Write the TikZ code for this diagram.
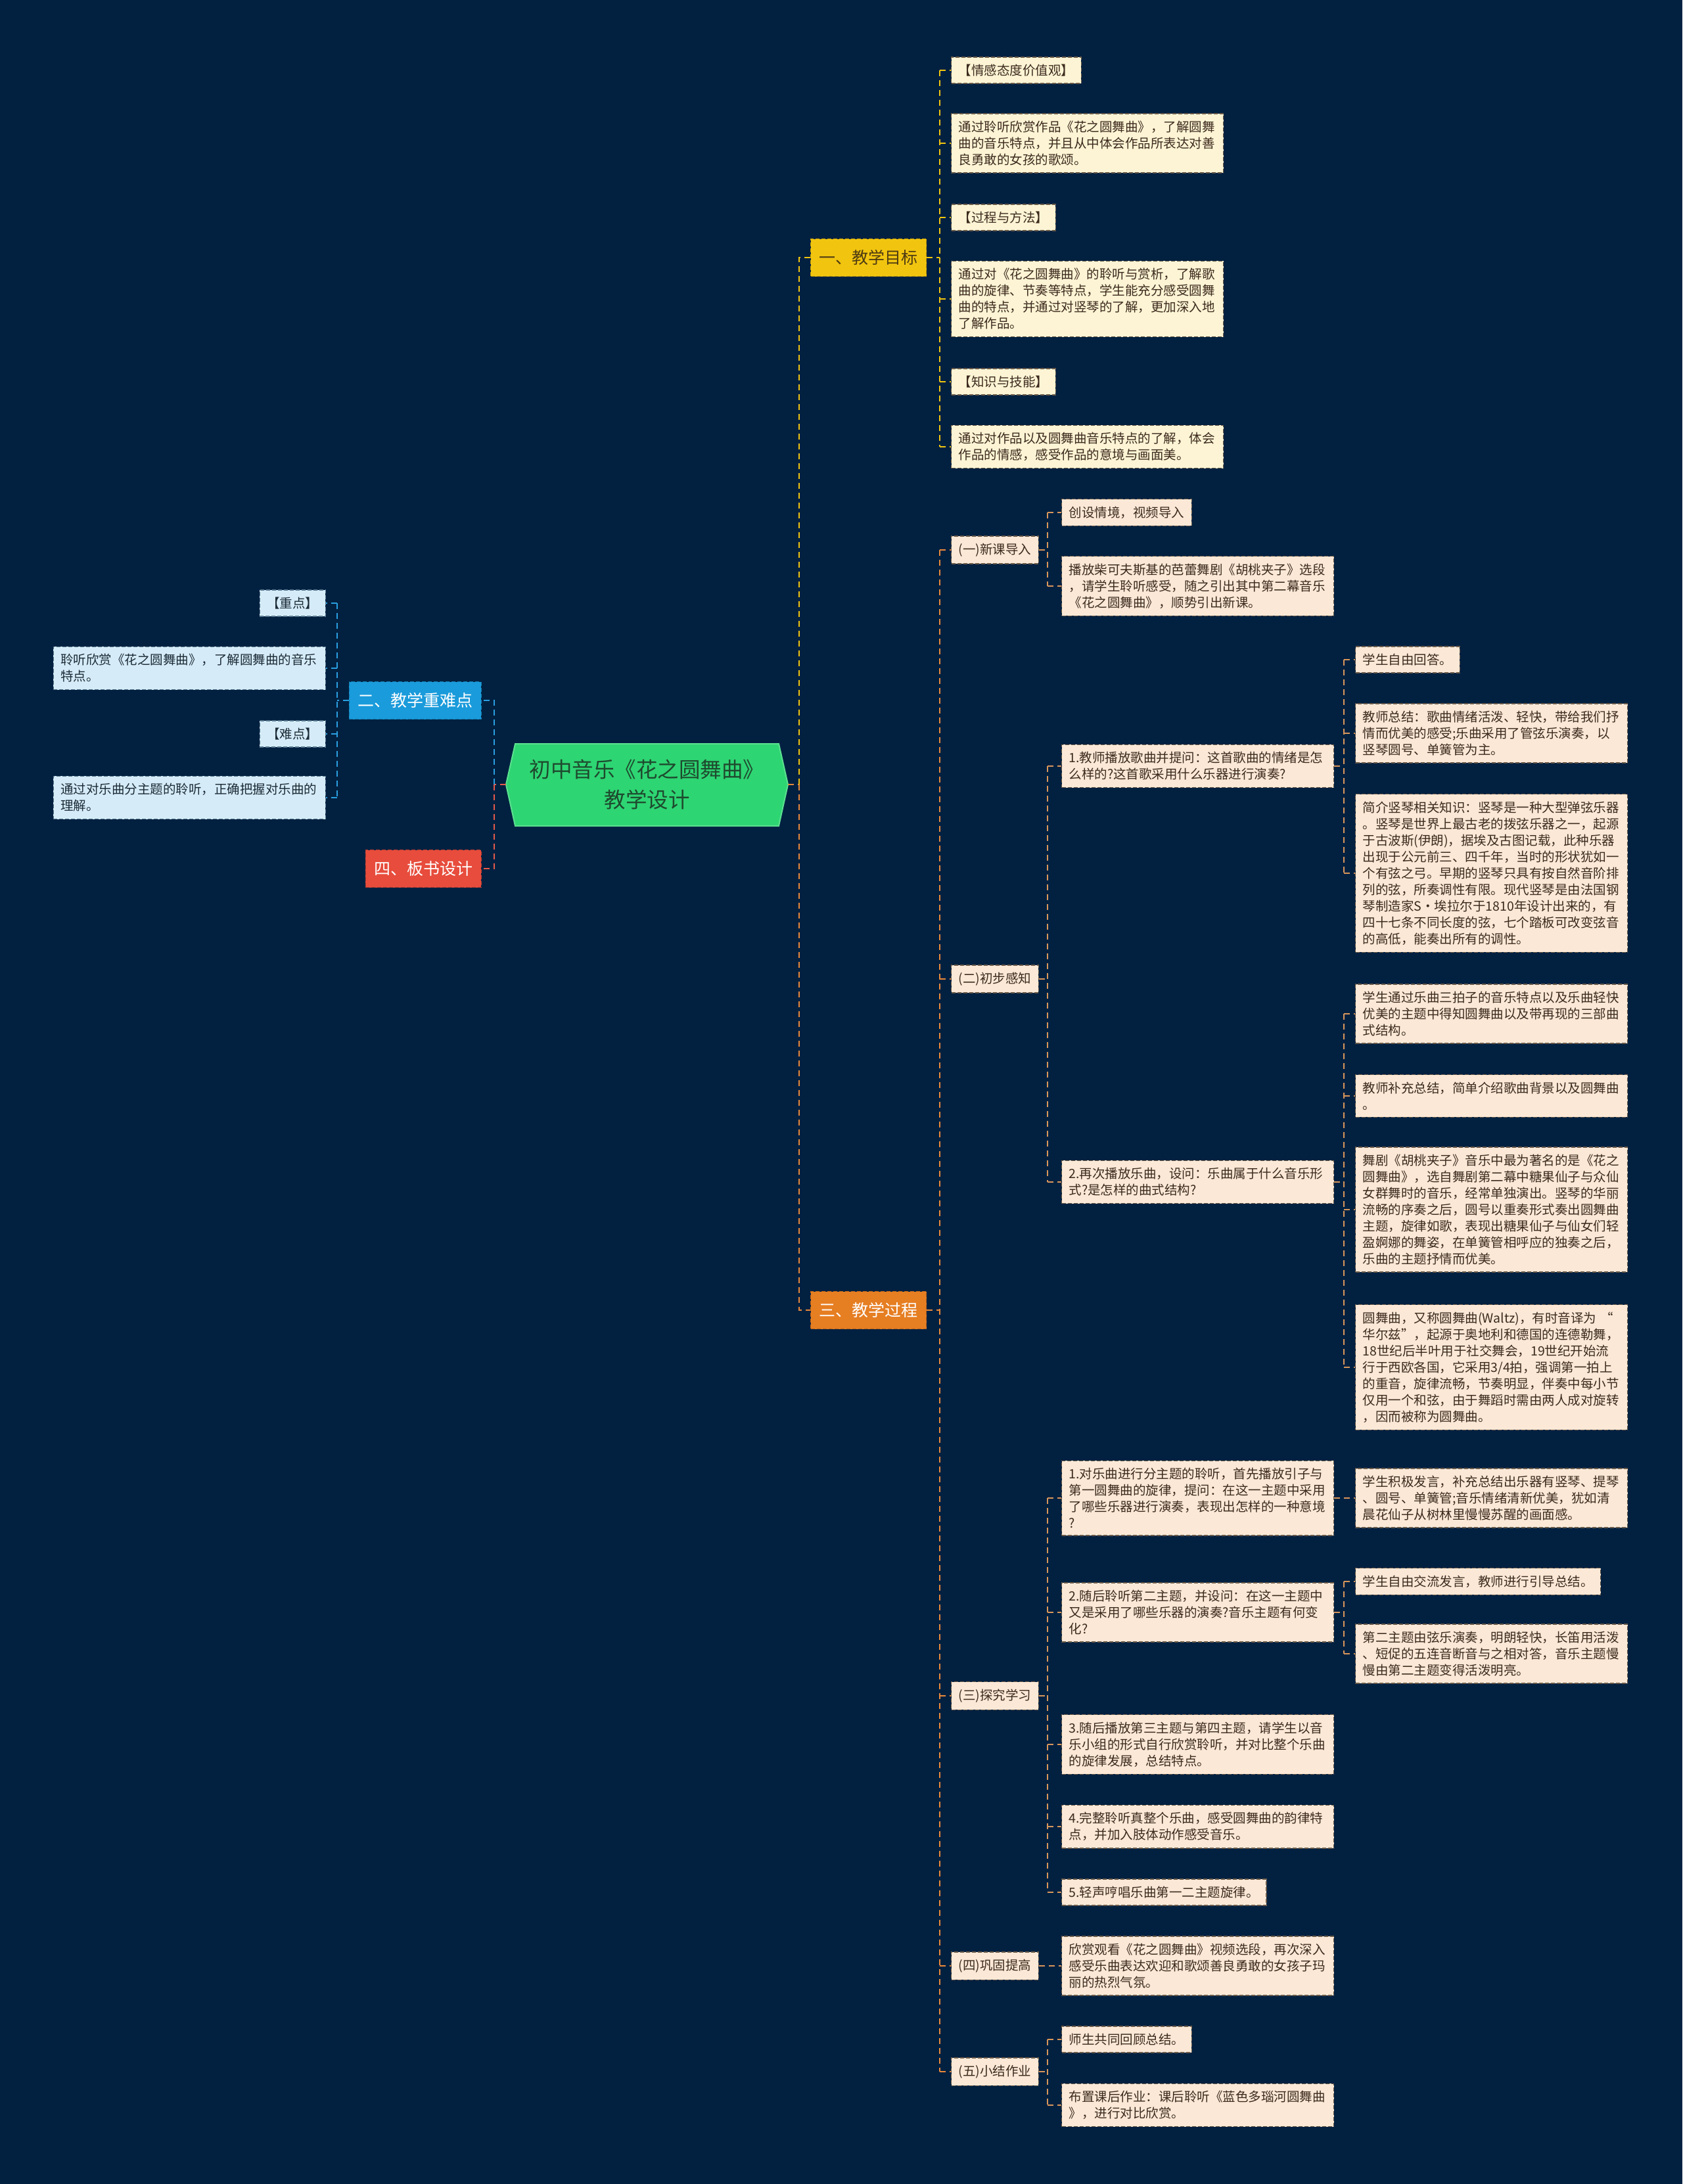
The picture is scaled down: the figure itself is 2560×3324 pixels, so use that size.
\documentclass[tikz,border=0pt]{standalone}
\usepackage{fontspec}
\newfontfamily\cjk{Noto Sans CJK SC}
\usetikzlibrary{calc}
\definecolor{bg}{HTML}{022141}
\definecolor{rootfill}{HTML}{2ED573}
\definecolor{rootborder}{HTML}{5BE08F}
\definecolor{roottext}{HTML}{1E4A2E}
\definecolor{secY}{HTML}{F1C40F}
\definecolor{secYtext}{HTML}{4D3B12}
\definecolor{secO}{HTML}{E67E22}
\definecolor{secB}{HTML}{1A9BDB}
\definecolor{secR}{HTML}{E74C3C}
\definecolor{ylwfill}{HTML}{FCF4D4}
\definecolor{pchfill}{HTML}{FBE8D6}
\definecolor{blufill}{HTML}{D5ECF8}
\definecolor{boxtext}{HTML}{3C2A1E}
\definecolor{blutext}{HTML}{1C2B36}
\definecolor{boxborder}{HTML}{6A5A48}
\definecolor{bluborder}{HTML}{5A7A90}
\definecolor{ylwline}{HTML}{F1C40F}
\definecolor{orgline}{HTML}{E8883A}
\definecolor{tanline}{HTML}{D9965A}
\definecolor{bluline}{HTML}{2A9FE0}
\definecolor{redline}{HTML}{E55A4A}
\tikzset{
  txt/.style={inner xsep=11pt, inner ysep=11pt, align=left,
    font=\cjk\fontsize{19.5}{25}\selectfont, draw, line width=1.3pt,
    dash pattern=on 6pt off 3pt},
  ylw/.style={txt, fill=ylwfill, draw=boxborder, text=boxtext, anchor=west},
  pch/.style={txt, fill=pchfill, draw=boxborder, text=boxtext, anchor=west},
  blu/.style={txt, fill=blufill, draw=bluborder, text=blutext, anchor=east},
  long/.style={text width=392pt},
  sect/.style={font=\cjk\fontsize{25}{30}\selectfont, inner xsep=13pt,
    inner ysep=0pt, minimum height=57pt, draw, line width=1.3pt,
    dash pattern=on 6pt off 3pt},
  conn/.style={line width=2.5pt, dash pattern=on 9pt off 6pt},
}
\begin{document}
\begin{tikzpicture}[x=1pt,y=-1pt]
\fill[bg] (0,0) rectangle (2560,3324);
\useasboundingbox (0,0) rectangle (2560,3324);

% root
\fill[rootfill, draw=rootborder, line width=2pt] (770,1194) -- (784,1132) -- (1185,1132) -- (1199,1194) -- (1185,1257) -- (784,1257) -- cycle;
\node[minimum width=429pt, minimum height=125pt, inner sep=0pt, align=center,
  font=\cjk\fontsize{32.5}{46}\selectfont, text=roottext] (root) at (984.5,1194)
  {初中音乐《花之圆舞曲》\\教学设计};

% sections
\node[sect, fill=secY, draw=secY!80!black, text=secYtext, anchor=west] (s1) at (1233,392) {一、教学目标};
\node[sect, fill=secO, draw=secO!80!black, text=white, anchor=west] (s3) at (1233,1994) {三、教学过程};
\node[sect, fill=secB, draw=secB!80!black, text=white, anchor=east] (s2) at (733,1066) {二、教学重难点};
\node[sect, fill=secR, draw=secR!80!black, text=white, anchor=east] (s4) at (733,1322) {四、板书设计};

% trunk x positions
\coordinate (tR) at (1216,0);
\coordinate (tL) at (752,0);
\coordinate (t1) at (1430,0);
\coordinate (tA) at (1594,0);
\coordinate (tB) at (2045,0);
\coordinate (tS) at (513,0);

% section 1 children
\node[ylw] (c11) at (1447,107) {【情感态度价值观】};
\node[ylw, long] (c12) at (1447,218) {通过聆听欣赏作品《花之圆舞曲》，了解圆舞\\曲的音乐特点，并且从中体会作品所表达对善\\良勇敢的女孩的歌颂。};
\node[ylw] (c13) at (1447,331) {【过程与方法】};
\node[ylw, long] (c14) at (1447,455) {通过对《花之圆舞曲》的聆听与赏析，了解歌\\曲的旋律、节奏等特点，学生能充分感受圆舞\\曲的特点，并通过对竖琴的了解，更加深入地\\了解作品。};
\node[ylw] (c15) at (1447,581) {【知识与技能】};
\node[ylw, long] (c16) at (1447,680) {通过对作品以及圆舞曲音乐特点的了解，体会\\作品的情感，感受作品的意境与画面美。};

% section 3 level 2
\node[pch] (sa) at (1447,837) {(一)新课导入};
\node[pch] (sb) at (1447,1490) {(二)初步感知};
\node[pch] (sc) at (1447,2581) {(三)探究学习};
\node[pch] (sd) at (1447,2992) {(四)巩固提高};
\node[pch] (se) at (1447,3153) {(五)小结作业};

% (一)
\node[pch] (a1) at (1615,780) {创设情境，视频导入};
\node[pch, long] (a2) at (1615,892) {播放柴可夫斯基的芭蕾舞剧《胡桃夹子》选段\\，请学生聆听感受，随之引出其中第二幕音乐\\《花之圆舞曲》，顺势引出新课。};

% (二)
\node[pch, long] (b1) at (1615,1166) {1.教师播放歌曲并提问：这首歌曲的情绪是怎\\么样的?这首歌采用什么乐器进行演奏?};
\node[pch] (b11) at (2062,1004) {学生自由回答。};
\node[pch, long] (b12) at (2062,1116) {教师总结：歌曲情绪活泼、轻快，带给我们抒\\情而优美的感受;乐曲采用了管弦乐演奏，以\\竖琴圆号、单簧管为主。};
\node[pch, long] (b13) at (2062,1329) {简介竖琴相关知识：竖琴是一种大型弹弦乐器\\。竖琴是世界上最古老的拨弦乐器之一，起源\\于古波斯(伊朗)，据埃及古图记载，此种乐器\\出现于公元前三、四千年，当时的形状犹如一\\个有弦之弓。早期的竖琴只具有按自然音阶排\\列的弦，所奏调性有限。现代竖琴是由法国钢\\琴制造家S·埃拉尔于1810年设计出来的，有\\四十七条不同长度的弦，七个踏板可改变弦音\\的高低，能奏出所有的调性。};
\node[pch, long] (b2) at (1615,1799) {2.再次播放乐曲，设问：乐曲属于什么音乐形\\式?是怎样的曲式结构?};
\node[pch, long] (b21) at (2062,1543) {学生通过乐曲三拍子的音乐特点以及乐曲轻快\\优美的主题中得知圆舞曲以及带再现的三部曲\\式结构。};
\node[pch, long] (b22) at (2062,1668) {教师补充总结，简单介绍歌曲背景以及圆舞曲\\。};
\node[pch, long] (b23) at (2062,1841) {舞剧《胡桃夹子》音乐中最为著名的是《花之\\圆舞曲》，选自舞剧第二幕中糖果仙子与众仙\\女群舞时的音乐，经常单独演出。竖琴的华丽\\流畅的序奏之后，圆号以重奏形式奏出圆舞曲\\主题，旋律如歌，表现出糖果仙子与仙女们轻\\盈婀娜的舞姿，在单簧管相呼应的独奏之后，\\乐曲的主题抒情而优美。};
\node[pch, long] (b24) at (2062,2081) {圆舞曲，又称圆舞曲(Waltz)，有时音译为 “\\华尔兹”，起源于奥地利和德国的连德勒舞，\\18世纪后半叶用于社交舞会，19世纪开始流\\行于西欧各国，它采用3/4拍，强调第一拍上\\的重音，旋律流畅，节奏明显，伴奏中每小节\\仅用一个和弦，由于舞蹈时需由两人成对旋转\\，因而被称为圆舞曲。};

% (三)
\node[pch, long] (p1) at (1615,2280) {1.对乐曲进行分主题的聆听，首先播放引子与\\第一圆舞曲的旋律，提问：在这一主题中采用\\了哪些乐器进行演奏，表现出怎样的一种意境\\?};
\node[pch, long] (p11) at (2062,2280) {学生积极发言，补充总结出乐器有竖琴、提琴\\、圆号、单簧管;音乐情绪清新优美，犹如清\\晨花仙子从树林里慢慢苏醒的画面感。};
\node[pch, long] (p2) at (1615,2454) {2.随后聆听第二主题，并设问：在这一主题中\\又是采用了哪些乐器的演奏?音乐主题有何变\\化?};
\node[pch] (p21) at (2062,2407) {学生自由交流发言，教师进行引导总结。};
\node[pch, long] (p22) at (2062,2517) {第二主题由弦乐演奏，明朗轻快，长笛用活泼\\、短促的五连音断音与之相对答，音乐主题慢\\慢由第二主题变得活泼明亮。};
\node[pch, long] (p3) at (1615,2655) {3.随后播放第三主题与第四主题，请学生以音\\乐小组的形式自行欣赏聆听，并对比整个乐曲\\的旋律发展，总结特点。};
\node[pch, long] (p4) at (1615,2780) {4.完整聆听真整个乐曲，感受圆舞曲的韵律特\\点，并加入肢体动作感受音乐。};
\node[pch] (p5) at (1615,2880) {5.轻声哼唱乐曲第一二主题旋律。};

% (四)
\node[pch, long] (d1) at (1615,2992) {欣赏观看《花之圆舞曲》视频选段，再次深入\\感受乐曲表达欢迎和歌颂善良勇敢的女孩子玛\\丽的热烈气氛。};

% (五)
\node[pch] (e1) at (1615,3104) {师生共同回顾总结。};
\node[pch, long] (e2) at (1615,3204) {布置课后作业：课后聆听《蓝色多瑙河圆舞曲\\》，进行对比欣赏。};

% left children
\node[blu] (l1) at (496,918) {【重点】};
\node[blu, long] (l2) at (496,1017) {聆听欣赏《花之圆舞曲》，了解圆舞曲的音乐\\特点。};
\node[blu] (l3) at (496,1117) {【难点】};
\node[blu, long] (l4) at (496,1214) {通过对乐曲分主题的聆听，正确把握对乐曲的\\理解。};

% ---------- connectors ----------
% main right
\draw[conn, orgline] (root.east) -- (tR |- root.east);
\draw[conn, ylwline] (tR |- root.east) -- (tR |- s1.west) -- (s1.west);
\draw[conn, orgline] (tR |- root.east) -- (tR |- s3.west) -- (s3.west);
% main left
\draw[conn, redline] (root.west) -- (tL |- root.west);
\draw[conn, bluline] (tL |- root.west) -- (tL |- s2.east) -- (s2.east);
\draw[conn, redline] (tL |- root.west) -- (tL |- s4.east) -- (s4.east);

% section 1
\draw[conn, ylwline] (s1.east) -- (t1 |- s1.east);
\draw[conn, ylwline] (t1 |- c11.west) -- (t1 |- c16.west);
\foreach \n in {c11,c12,c13,c14,c15,c16} \draw[conn, ylwline] (t1 |- \n.west) -- (\n.west);

% section 3
\draw[conn, orgline] (s3.east) -- (t1 |- s3.east);
\draw[conn, orgline] (t1 |- sa.west) -- (t1 |- se.west);
\foreach \n in {sa,sb,sc,sd,se} \draw[conn, orgline] (t1 |- \n.west) -- (\n.west);

% (一)
\draw[conn, tanline] (sa.east) -- (tA |- sa.east);
\draw[conn, tanline] (tA |- a1.west) -- (tA |- a2.west);
\foreach \n in {a1,a2} \draw[conn, tanline] (tA |- \n.west) -- (\n.west);
% (二)
\draw[conn, tanline] (sb.east) -- (tA |- sb.east);
\draw[conn, tanline] (tA |- b1.west) -- (tA |- b2.west);
\foreach \n in {b1,b2} \draw[conn, tanline] (tA |- \n.west) -- (\n.west);
\draw[conn, tanline] (b1.east) -- (tB |- b1.east);
\draw[conn, tanline] (tB |- b11.west) -- (tB |- b13.west);
\foreach \n in {b11,b12,b13} \draw[conn, tanline] (tB |- \n.west) -- (\n.west);
\draw[conn, tanline] (b2.east) -- (tB |- b2.east);
\draw[conn, tanline] (tB |- b21.west) -- (tB |- b24.west);
\foreach \n in {b21,b22,b23,b24} \draw[conn, tanline] (tB |- \n.west) -- (\n.west);
% (三)
\draw[conn, tanline] (sc.east) -- (tA |- sc.east);
\draw[conn, tanline] (tA |- p1.west) -- (tA |- p5.west);
\foreach \n in {p1,p2,p3,p4,p5} \draw[conn, tanline] (tA |- \n.west) -- (\n.west);
\draw[conn, tanline] (p1.east) -- (p11.west);
\draw[conn, tanline] (p2.east) -- (tB |- p2.east);
\draw[conn, tanline] (tB |- p21.west) -- (tB |- p22.west);
\foreach \n in {p21,p22} \draw[conn, tanline] (tB |- \n.west) -- (\n.west);
% (四)
\draw[conn, tanline] (sd.east) -- (d1.west);
% (五)
\draw[conn, tanline] (se.east) -- (tA |- se.east);
\draw[conn, tanline] (tA |- e1.west) -- (tA |- e2.west);
\foreach \n in {e1,e2} \draw[conn, tanline] (tA |- \n.west) -- (\n.west);

% section 2
\draw[conn, bluline] (s2.west) -- (tS |- s2.west);
\draw[conn, bluline] (tS |- l1.east) -- (tS |- l4.east);
\foreach \n in {l1,l2,l3,l4} \draw[conn, bluline] (tS |- \n.east) -- (\n.east);
\end{tikzpicture}
\end{document}
